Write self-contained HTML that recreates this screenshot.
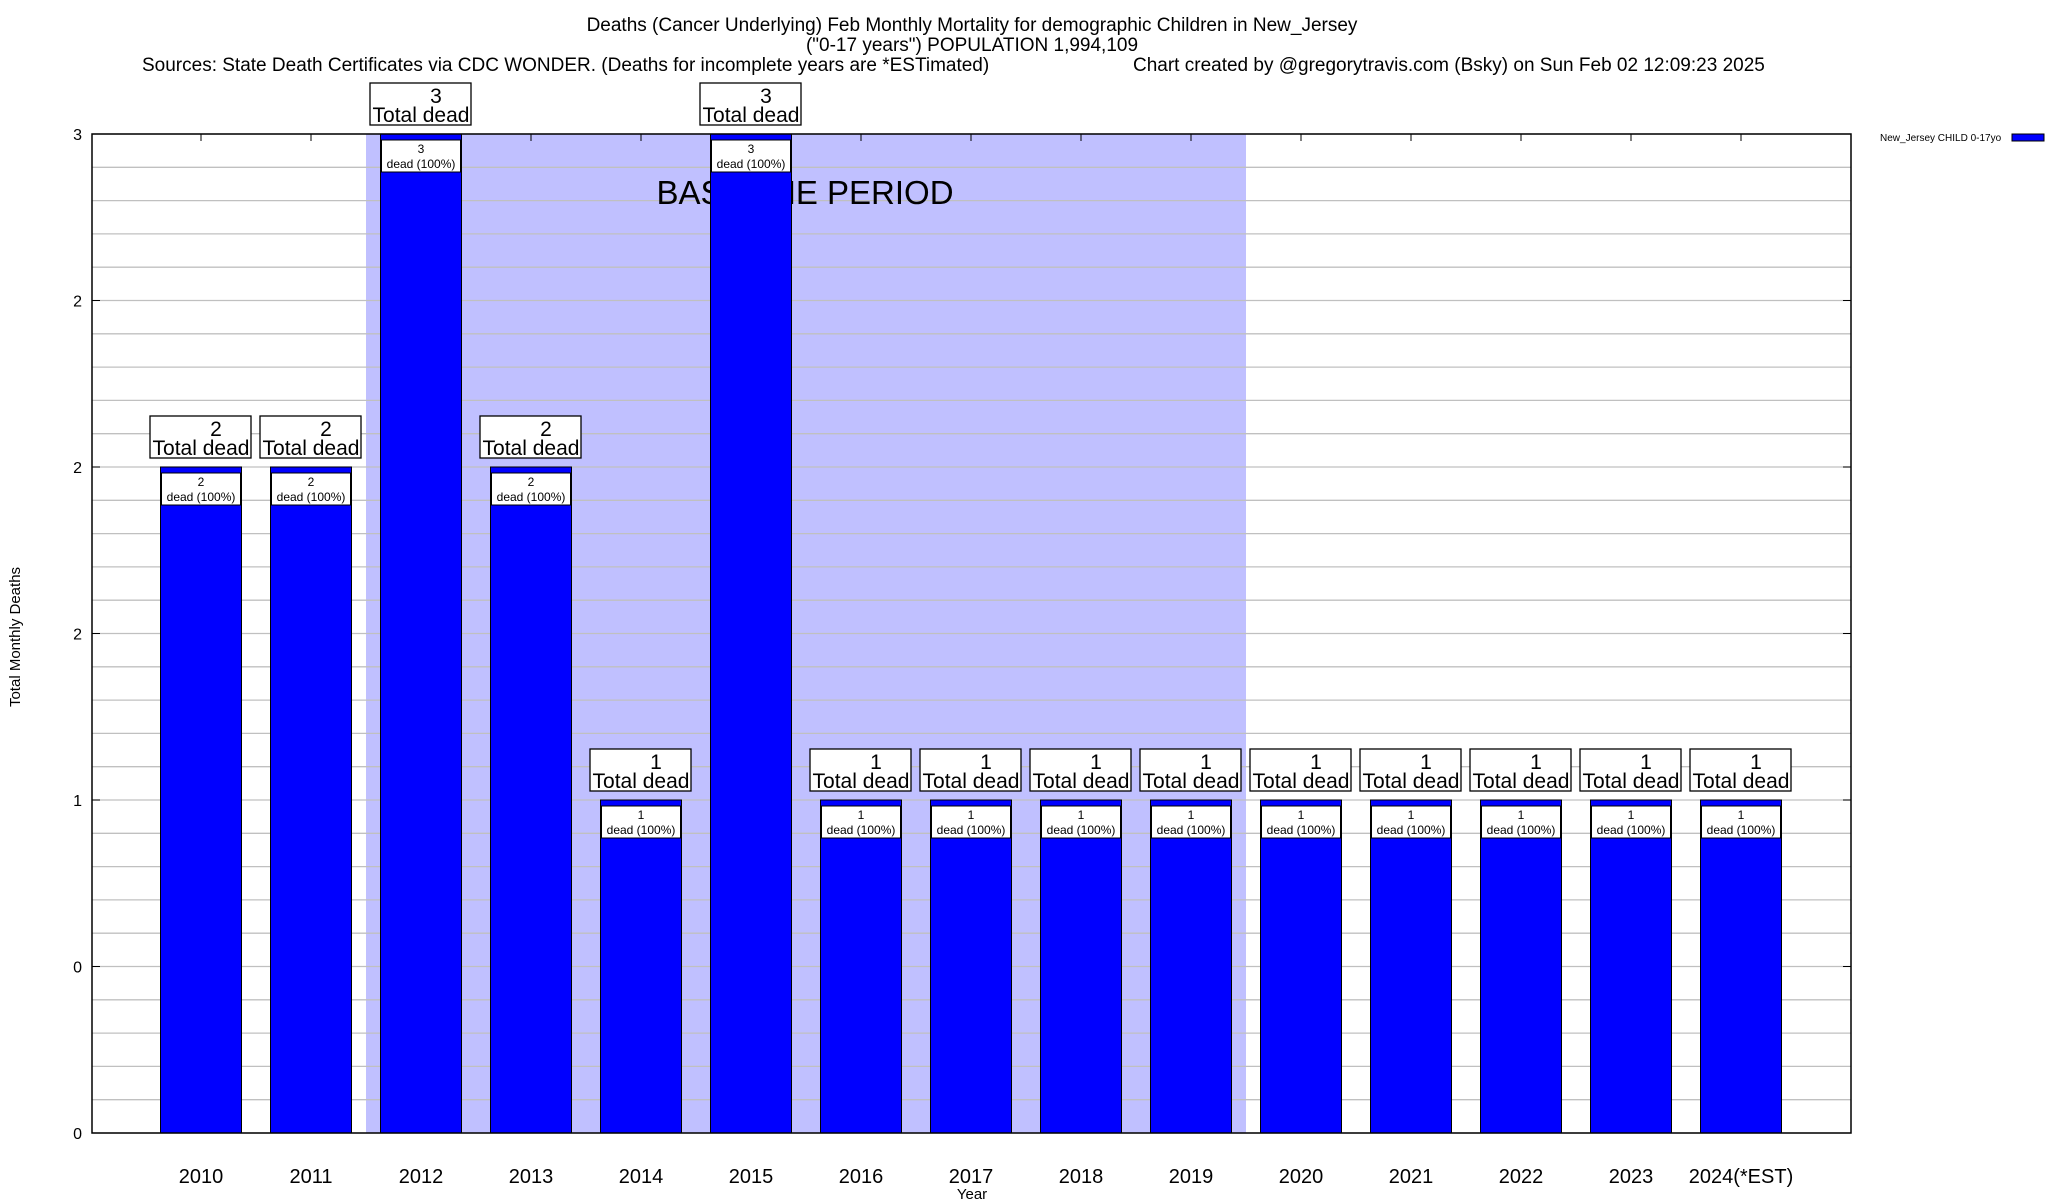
<!DOCTYPE html>
<html><head><meta charset="utf-8"><style>
html,body{margin:0;padding:0;background:#fff;}
svg{display:block;font-family:"Liberation Sans",sans-serif;}
</style></head><body>
<svg id="chart" width="2048" height="1200" viewBox="0 0 2048 1200">
<g font-size="19" fill="#000">
<text x="972" y="31" text-anchor="middle">Deaths (Cancer Underlying) Feb Monthly Mortality for demographic Children in New_Jersey</text>
<text x="972" y="51" text-anchor="middle">("0-17 years") POPULATION 1,994,109</text>
<text x="142" y="71">Sources: State Death Certificates via CDC WONDER. (Deaths for incomplete years are *ESTimated)</text>
<text x="1133" y="71">Chart created by @gregorytravis.com (Bsky) on Sun Feb 02 12:09:23 2025</text>
</g>
<g id="plot"></g>
<text x="1880" y="141" font-size="10">New_Jersey CHILD 0-17yo</text>
<rect x="2012" y="134" width="32" height="7" fill="#0000ff" stroke="#000" stroke-width="1"/>
<text transform="translate(20,637) rotate(-90)" text-anchor="middle" font-size="15">Total Monthly Deaths</text>
<text x="972" y="1199" text-anchor="middle" font-size="15">Year</text>
</svg>
<script>
const categories = ["2010","2011","2012","2013","2014","2015","2016","2017","2018","2019","2020","2021","2022","2023","2024(*EST)"];
const deaths = [2,2,3,2,1,3,1,1,1,1,1,1,1,1,1];
const yTickValues = [0,0.5,1,1.5,2,2.5,3];
const yTickLabels = ["0","0","1","2","2","2","3"];
const baselineStart = 1.5, baselineEnd = 9.5;
const yMax = 3;

const NS = "http://www.w3.org/2000/svg";
const L = 92, R = 1851, T = 134, B = 1133;
const x0 = 201, step = 110, bw = 81;
function xs(i){ return x0 + i*step; }
function ys(v){ return B - (B-T)*v/yMax; }
const plot = document.getElementById("plot");
function mk(tag, attrs, parent){
  const e = document.createElementNS(NS, tag);
  for (const k in attrs) e.setAttribute(k, attrs[k]);
  (parent||plot).appendChild(e); return e;
}
// baseline shading
const bp = mk("rect",{x:xs(baselineStart),y:T,width:xs(baselineEnd)-xs(baselineStart),height:B-T,fill:"#c0c0ff"});


// gridlines
for (let k=0;k<=30;k++){
  const v = k*0.1, y = ys(v);
  const g = mk("line",{x1:L,x2:R,y1:y,y2:y,stroke:"#c0c0c0","stroke-width":1.3});
  
  
}
const bl = mk("text",{x:805,y:204,"font-size":33,"text-anchor":"middle"});
bl.textContent = "BASELINE PERIOD";


// y ticks
yTickValues.forEach((v,i)=>{
  const y = ys(v);
  const t = mk("line",{x1:L,x2:L+8,y1:y,y2:y,stroke:"#000"});
  
  
  const t2 = mk("line",{x1:R-8,x2:R,y1:y,y2:y,stroke:"#000"});
  
  
  const lb = mk("text",{x:L-10,y:y+6,"font-size":16,"text-anchor":"end"});
  lb.textContent = yTickLabels[i];
  
  
});
// bars
categories.forEach((c,i)=>{
  const cx = xs(i), v = deaths[i], top = ys(v);
  const tk = mk("line",{x1:cx,x2:cx,y1:T,y2:T+7,stroke:"#000"});
  
  
  const b = mk("rect",{x:cx-bw/2,y:top,width:bw,height:B-top,fill:"#0000ff",stroke:"#000","stroke-width":1});
  
  
  const ib = mk("rect",{x:cx-bw/2+1,y:top+6,width:bw-2,height:32,fill:"#fff",stroke:"#000","stroke-width":1});
  
  
  const it1 = mk("text",{x:cx,y:top+19,"font-size":12,"text-anchor":"middle"});
  it1.textContent = String(v);
  
  
  const it2 = mk("text",{x:cx,y:top+34,"font-size":12,"text-anchor":"middle"});
  it2.textContent = "dead (100%)";
  
  
  const ob = mk("rect",{x:cx-51,y:top-51,width:101,height:42,fill:"#fff",stroke:"#000","stroke-width":1.3});
  
  
  const o1 = mk("text",{x:cx+15,y:top-31,"font-size":21,"text-anchor":"middle"});
  o1.textContent = String(v);
  
  
  const o2 = mk("text",{x:cx,y:top-12,"font-size":21,"text-anchor":"middle"});
  o2.textContent = "Total dead";
  
  
  const xl = mk("text",{x:cx,y:1183,"font-size":20,"text-anchor":"middle"});
  xl.textContent = c;
  
  
});
const frame = mk("rect",{x:L,y:T,width:R-L,height:B-T,fill:"none",stroke:"#000","stroke-width":1.5});


</script>
</body></html>
